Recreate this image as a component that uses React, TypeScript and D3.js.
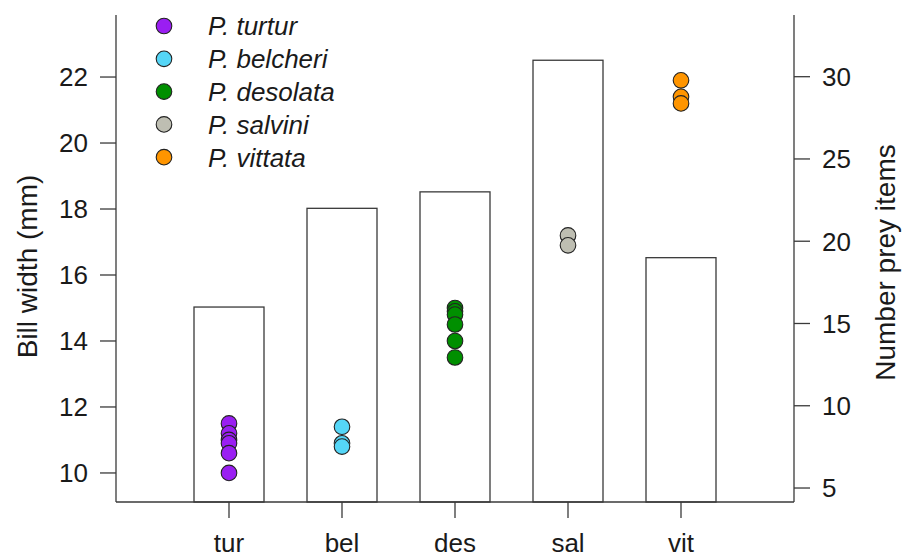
import { useEffect, useRef } from 'react';
import * as d3 from 'd3';

// Categories and legend names
const categories: string[] = ["tur", "bel", "des", "sal", "vit"];
const speciesNames: string[] = ["P. turtur", "P. belcheri", "P. desolata", "P. salvini", "P. vittata"];
const speciesColors: string[] = ["#9A1EF2", "#55D6F7", "#008F00", "#BEBEB2", "#FF9500"];

// Number of prey items (bars, right axis)
const preyItems: number[] = [16, 22, 23, 31, 19];

// Bill width per individual (points, left axis)
const billTur: number[] = [11.5, 11.2, 11.0, 10.9, 10.6, 10.0];
const billBel: number[] = [11.4, 10.9, 10.8];
const billDes: number[] = [15.0, 14.9, 14.8, 14.5, 14.0, 13.5];
const billSal: number[] = [17.2, 16.9];
const billVit: number[] = [21.9, 21.4, 21.2];
const billWidths: number[][] = [billTur, billBel, billDes, billSal, billVit];

// Tick labels
const leftTicks: number[] = [10, 12, 14, 16, 18, 20, 22];
const rightTicks: number[] = [5, 10, 15, 20, 25, 30];

export default function App() {
    const svgRef = useRef<SVGSVGElement | null>(null);

    useEffect(() => {
        if (!svgRef.current) return;
        const svg = d3.select(svgRef.current);
        svg.selectAll("*").remove();

        const width = 902;
        const height = 558;
        const left = 116, right = 794, top = 15, bottom = 502;
        const font = "'Liberation Sans', Arial, Helvetica, sans-serif";
        const axisColor = "#3a3a3a";
        const textColor = "#1a1a1a";
        const fs = 26; // tick and legend labels
        const titleFs = 28;

        svg.attr("width", width).attr("height", height);

        // Scales
        const x = d3.scalePoint<string>().domain(categories).range([left, right]).padding(1);
        const yL = d3.scaleLinear().domain([9.12, 23.88]).range([bottom, top]);
        const yR = d3.scaleLinear().domain([4.15, 33.75]).range([bottom, top]);
        const barW = 70;

        // Bars
        svg.append("g").selectAll("rect")
            .data(preyItems)
            .join("rect")
            .attr("x", (_, i) => (x(categories[i]) as number) - barW / 2)
            .attr("y", d => yR(d))
            .attr("width", barW)
            .attr("height", d => bottom - yR(d))
            .attr("fill", "white")
            .attr("stroke", axisColor)
            .attr("stroke-width", 1.3);

        // Points
        billWidths.forEach((vals, i) => {
            svg.append("g").selectAll("circle")
                .data(vals)
                .join("circle")
                .attr("cx", x(categories[i]) as number)
                .attr("cy", d => yL(d))
                .attr("r", 7.8)
                .attr("fill", speciesColors[i])
                .attr("stroke", "#222")
                .attr("stroke-width", 1.1);
        });

        // Axis lines
        const frame = svg.append("g").attr("stroke", axisColor).attr("stroke-width", 1.3).attr("fill", "none");
        frame.append("line").attr("x1", left).attr("x2", left).attr("y1", top).attr("y2", bottom);
        frame.append("line").attr("x1", right).attr("x2", right).attr("y1", top).attr("y2", bottom);
        frame.append("line").attr("x1", left).attr("x2", right).attr("y1", bottom).attr("y2", bottom);

        // Left axis
        const gl = svg.append("g");
        leftTicks.forEach(t => {
            gl.append("line").attr("x1", left - 16).attr("x2", left)
                .attr("y1", yL(t)).attr("y2", yL(t))
                .attr("stroke", axisColor).attr("stroke-width", 1.3);
            gl.append("text").attr("x", 88).attr("y", yL(t) + fs * 0.36)
                .attr("text-anchor", "end")
                .attr("font-family", font).attr("font-size", fs).attr("fill", textColor)
                .text(t);
        });

        // Right axis
        const gr = svg.append("g");
        rightTicks.forEach(t => {
            gr.append("line").attr("x1", right).attr("x2", right + 16)
                .attr("y1", yR(t)).attr("y2", yR(t))
                .attr("stroke", axisColor).attr("stroke-width", 1.3);
            gr.append("text").attr("x", 822).attr("y", yR(t) + fs * 0.36)
                .attr("text-anchor", "start")
                .attr("font-family", font).attr("font-size", fs).attr("fill", textColor)
                .text(t);
        });

        // Bottom axis
        const gb = svg.append("g");
        categories.forEach(c => {
            const cx = x(c) as number;
            gb.append("line").attr("x1", cx).attr("x2", cx).attr("y1", bottom).attr("y2", bottom + 16)
                .attr("stroke", axisColor).attr("stroke-width", 1.3);
            gb.append("text").attr("x", cx).attr("y", 552)
                .attr("text-anchor", "middle")
                .attr("font-family", font).attr("font-size", fs).attr("fill", textColor)
                .text(c);
        });

        // Axis titles
        svg.append("text")
            .attr("transform", `translate(37,${(top + bottom) / 2 + 8}) rotate(-90)`)
            .attr("text-anchor", "middle")
            .attr("font-family", font).attr("font-size", titleFs).attr("fill", textColor)
            .text("Bill width (mm)");
        svg.append("text")
            .attr("transform", `translate(895,${(top + bottom) / 2 + 4}) rotate(-90)`)
            .attr("text-anchor", "middle")
            .attr("font-family", font).attr("font-size", titleFs).attr("fill", textColor)
            .text("Number prey items");

        // Legend
        const lg = svg.append("g");
        speciesNames.forEach((name, i) => {
            const ly = 26 + i * 32.8;
            lg.append("circle").attr("cx", 164).attr("cy", ly).attr("r", 7.8)
                .attr("fill", speciesColors[i]).attr("stroke", "#222").attr("stroke-width", 1.1);
            lg.append("text").attr("x", 208).attr("y", ly + fs * 0.36)
                .attr("font-family", font).attr("font-size", fs).attr("font-style", "italic")
                .attr("fill", textColor)
                .text(name);
        });

        return () => { svg.selectAll("*").remove(); };
    }, []);

    return (
        <div style={{ position: "absolute", left: 0, top: 0, width: 902, height: 558, background: "white" }}>
            <svg ref={svgRef} width="902" height="558"></svg>
        </div>
    );
}
